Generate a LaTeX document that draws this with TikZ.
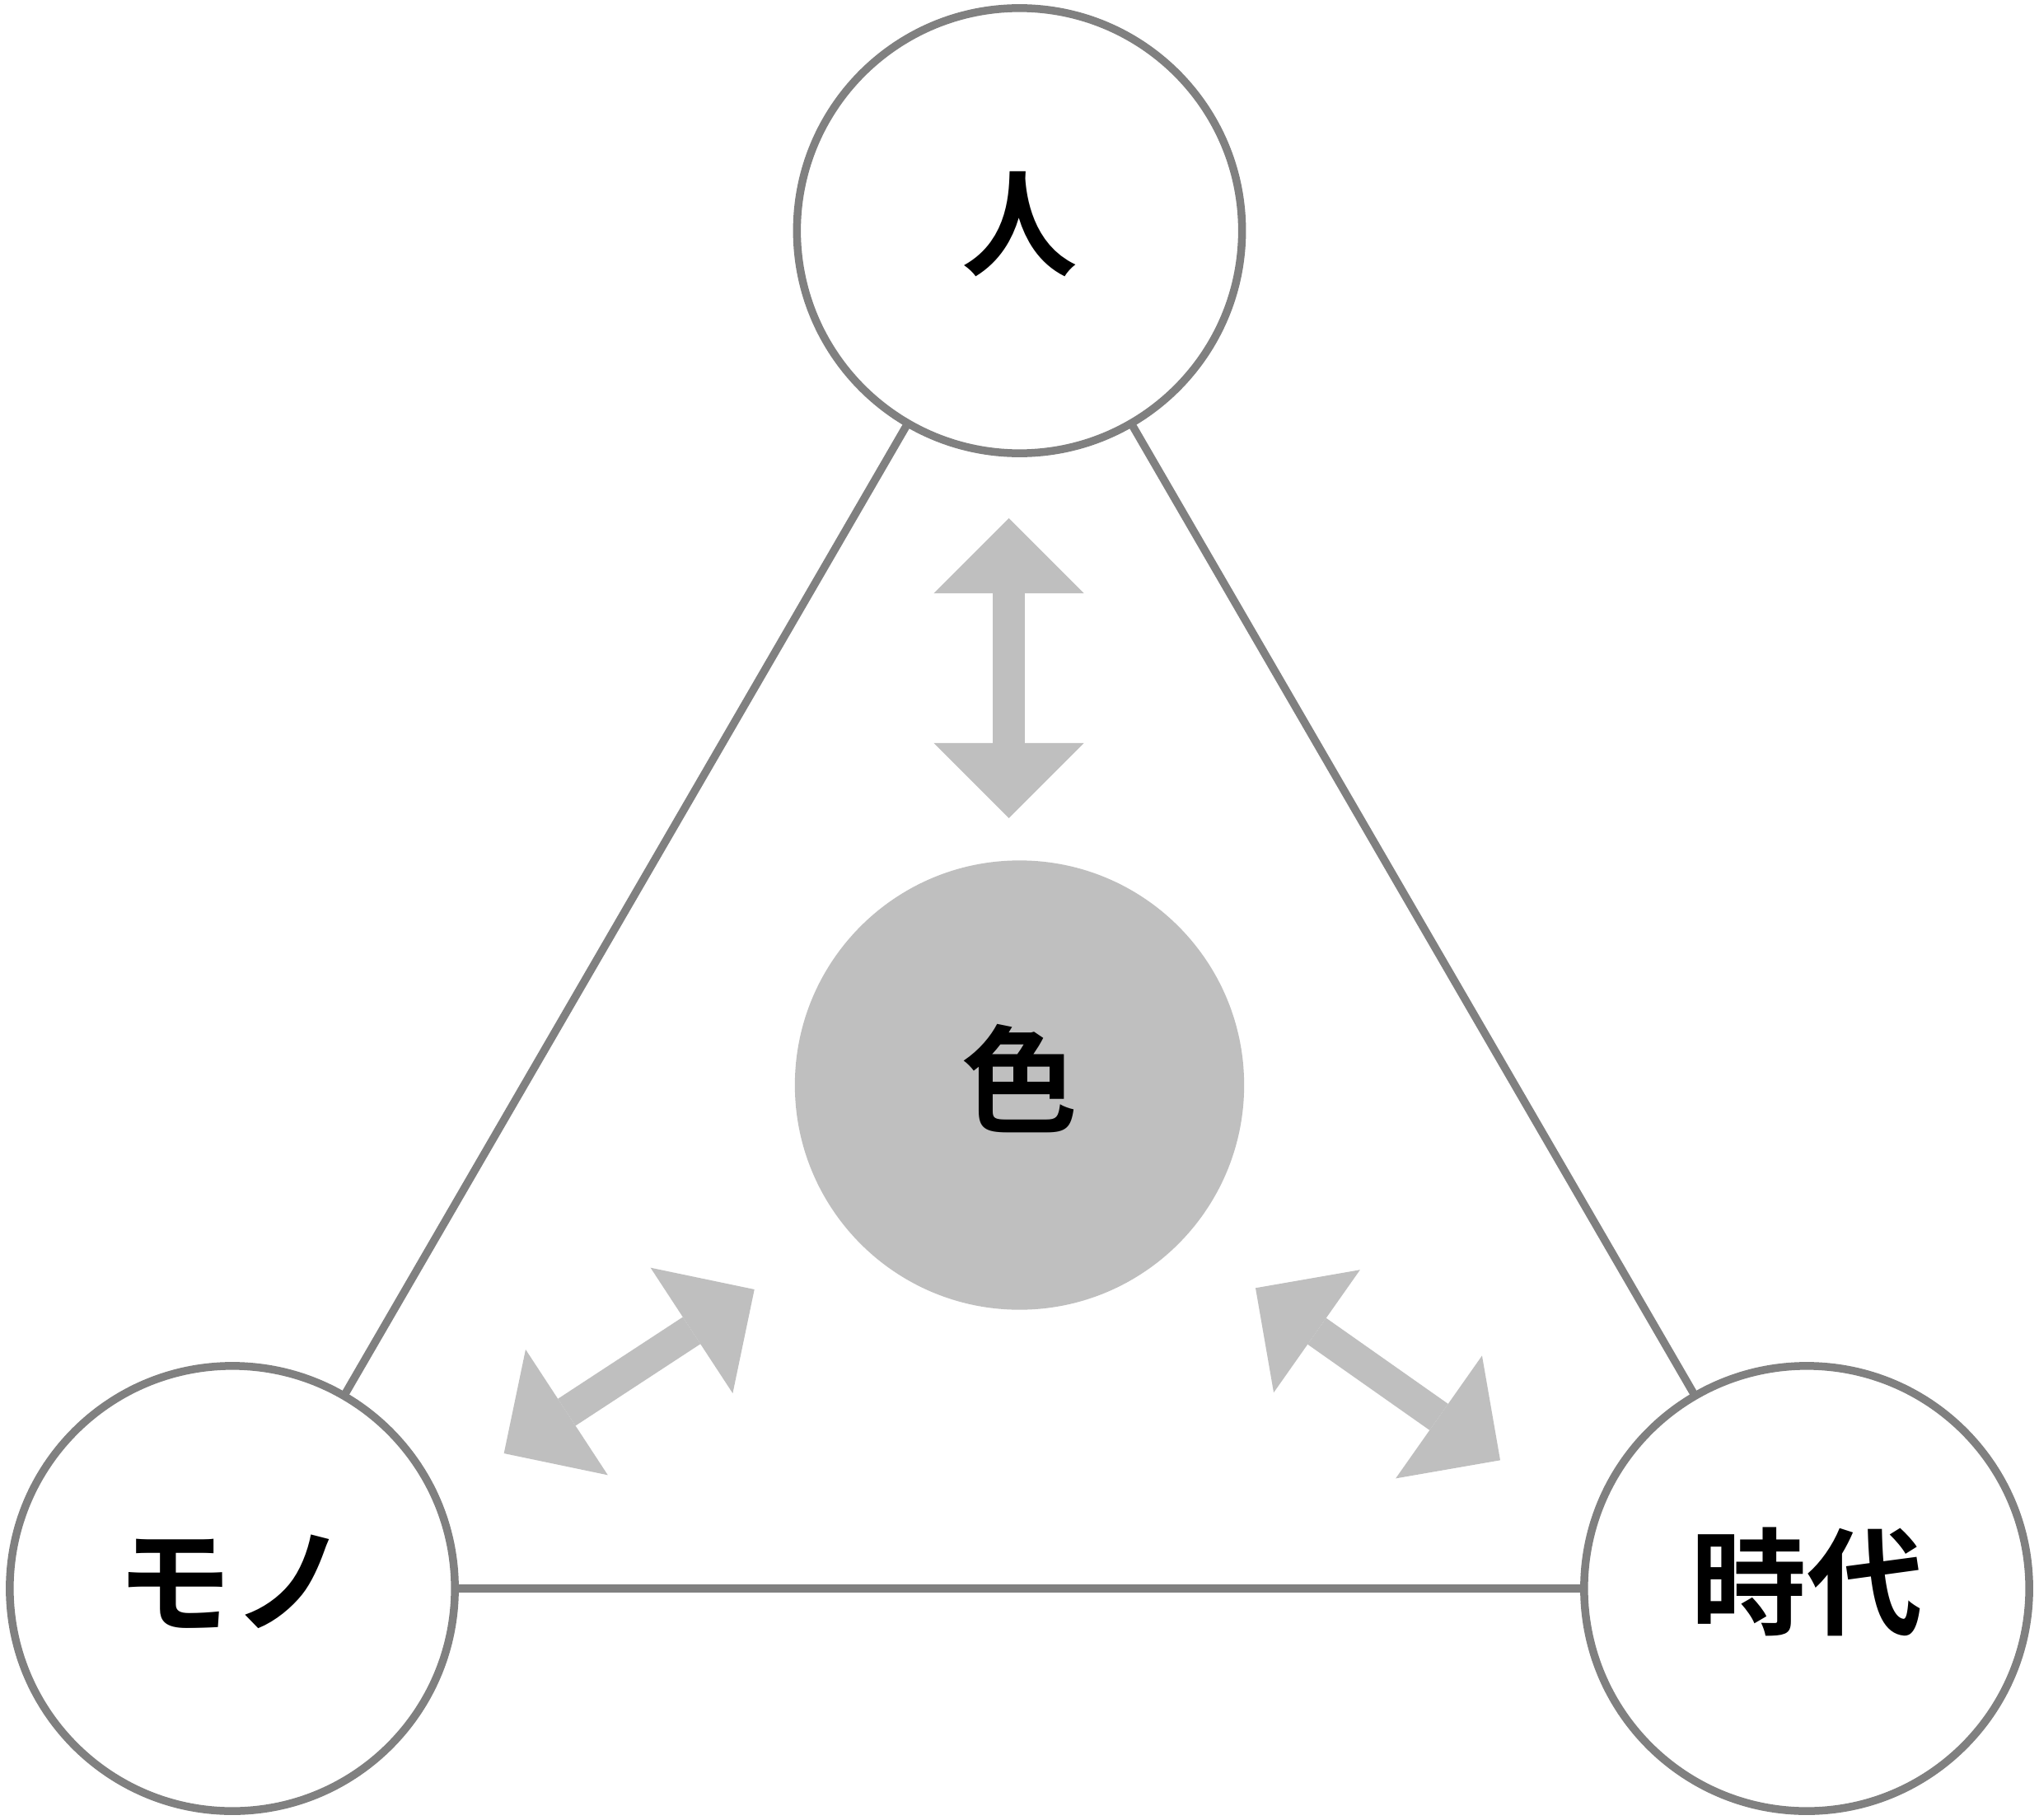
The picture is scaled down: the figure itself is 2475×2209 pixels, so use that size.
\documentclass[tikz,border=0pt]{standalone}
\usepackage{fontspec}
\newfontfamily\cjk{Noto Sans CJK JP}[BoldFont={Noto Sans CJK JP Bold}]
\usetikzlibrary{arrows.meta}
\definecolor{ringgray}{HTML}{808080}
\definecolor{fillgray}{HTML}{BFBFBF}
\begin{document}
\begin{tikzpicture}[x=0.01cm,y=-0.01cm,
  lbl/.style={font=\cjk\bfseries\fontsize{40}{48}\selectfont,yshift=0.08cm,inner sep=0pt},
  ring/.style={circle,draw=ringgray,line width=0.095cm,fill=white,minimum size=5.40cm,inner sep=0pt},
  core/.style={circle,fill=fillgray,minimum size=5.45cm,inner sep=0pt},
  edge/.style={draw=ringgray,line width=0.095cm},
  dbl/.style={draw=fillgray,line width=0.39cm,
    {Triangle[length=0.91cm,width=1.82cm,line width=0pt]}-{Triangle[length=0.91cm,width=1.82cm,line width=0pt]}}]
\useasboundingbox (0,0) rectangle (2475,2209);
\fill[white] (0,0) rectangle (2475,2209);
% connectors first (behind rings)
\coordinate (pT) at (1237.5,280);
\coordinate (pL) at (282,1928);
\coordinate (pR) at (2193,1928);
\draw[edge] (pT) -- (pL);
\draw[edge] (pT) -- (pR);
\draw[edge] (pL) -- (pR);
\node[ring,label={[lbl]center:人}] (hito) at (pT) {};
\node[ring,label={[lbl]center:モノ}] (mono) at (pL) {};
\node[ring,label={[lbl]center:時代}] (jidai) at (pR) {};
\node[core,label={[lbl]center:色}] (iro) at (1237.5,1317) {};
% arrows
\coordinate (v1) at (1224.5,629);
\coordinate (v2) at (1224.5,993);
\coordinate (l1) at (611.7,1764);
\coordinate (l2) at (915.7,1565);
\coordinate (r1) at (1524,1563.3);
\coordinate (r2) at (1821,1772.3);
\draw[dbl] (v1) -- (v2);
\draw[dbl] (l1) -- (l2);
\draw[dbl] (r1) -- (r2);
\end{tikzpicture}
\end{document}
